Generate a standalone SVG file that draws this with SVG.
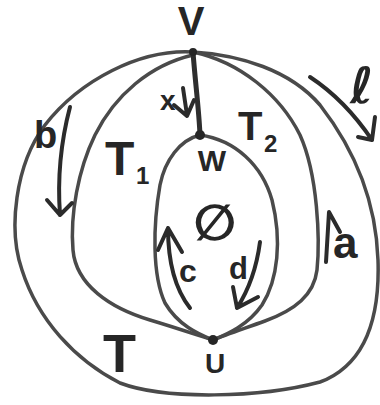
<svg xmlns="http://www.w3.org/2000/svg" width="380" height="405" viewBox="0 0 380 405">
<style>
.edge{fill:none;stroke:#4a4a4a;stroke-width:3.5;stroke-linecap:round;stroke-linejoin:round}
.vw{fill:none;stroke:#2e2e2e;stroke-width:5;stroke-linecap:round}
.arr{fill:none;stroke:#2b2b2b;stroke-width:4;stroke-linecap:round;stroke-linejoin:round}
.lbl{font-family:"Liberation Sans",Arial,sans-serif;font-weight:bold;fill:#262626}
.sym{font-family:"DejaVu Sans",sans-serif;font-weight:bold;fill:#262626}
.dot{fill:#262626}
</style>
<rect width="380" height="405" fill="#ffffff"/>
<g id="connectors">
  <path id="loop-l" class="edge" d="M193,52 C140,49 80,80 45,125 C15,165 8,230 22,270 C38,320 75,360 120,383 C165,400 260,398 320,382 C365,365 380,320 378,260 C376,200 355,150 320,105 C290,70 240,55 193,52 Z"/>
  <path id="edge-b" class="edge" d="M193,55 C150,65 115,95 95,135 C78,170 70,215 73,250 C76,285 110,308 150,320 C180,329 200,336 213,340"/>
  <path id="edge-a" class="edge" d="M193,52 C240,62 280,95 300,135 C318,175 320,240 317,270 C314,295 295,310 265,321 C240,330 225,335 213,340"/>
  <path id="edge-d" class="edge" d="M200,135 C235,140 262,165 272,200 C282,240 278,280 262,305 C248,325 228,334 213,340"/>
  <path id="edge-c" class="edge" d="M200,135 C180,140 165,160 160,185 C153,225 152,275 165,303 C178,325 198,334 213,340"/>
  <path id="edge-x" class="vw" d="M193,52 C195,80 199,110 200,135"/>
</g>
<g id="edge-labels">
  <g id="lab-x"><text class="lbl" x="160" y="110" font-size="28">x</text><path class="arr" d="M183,88 L187,115 M174,105 L187,116 L194,100"/></g>
  <g id="lab-b"><text class="lbl" x="34" y="148" font-size="38">b</text><path class="arr" d="M70,107 Q56,160 60,215 M47,200 L60,215 L72,203"/></g>
  <g id="lab-c"><text class="lbl" x="179" y="282" font-size="32">c</text><path class="arr" d="M190,308 Q168,280 168,228 M158,250 L168,228 L182,252"/></g>
  <g id="lab-d"><text class="lbl" x="229" y="279" font-size="31">d</text><path class="arr" d="M260,242 Q255,280 237,308 M233,287 L237,308 L258,297"/></g>
  <g id="lab-a"><text class="lbl" x="333" y="258" font-size="44">a</text><path class="arr" d="M326,262 L329,212 L340,232"/></g>
  <g id="lab-l"><text class="sym" x="350" y="103" font-size="50">ℓ</text><path class="arr" d="M310,77 Q345,100 372,140 M358,137 L372,140 L375,117"/></g>
</g>
<g id="V"><circle class="dot" cx="193" cy="52" r="4"/><text class="lbl" x="191" y="35" font-size="40" text-anchor="middle">V</text></g>
<g id="W"><circle class="dot" cx="200" cy="135" r="5"/><text class="lbl" x="212" y="171" font-size="30" text-anchor="middle">W</text></g>
<g id="U"><circle class="dot" cx="213" cy="340" r="5"/><text class="lbl" x="215" y="373" font-size="28" text-anchor="middle">U</text></g>
<g id="face-T1"><text class="lbl" x="105" y="175" font-size="48">T</text><text class="lbl" x="136" y="184" font-size="24">1</text></g>
<g id="face-T2"><text class="lbl" x="238" y="140" font-size="40">T</text><text class="lbl" x="264" y="152" font-size="24">2</text></g>
<g id="face-T"><text class="lbl" x="103" y="372" font-size="54">T</text></g>
<g id="face-empty"><text class="sym" x="215" y="240" font-size="50" text-anchor="middle">∅</text></g>
</svg>
